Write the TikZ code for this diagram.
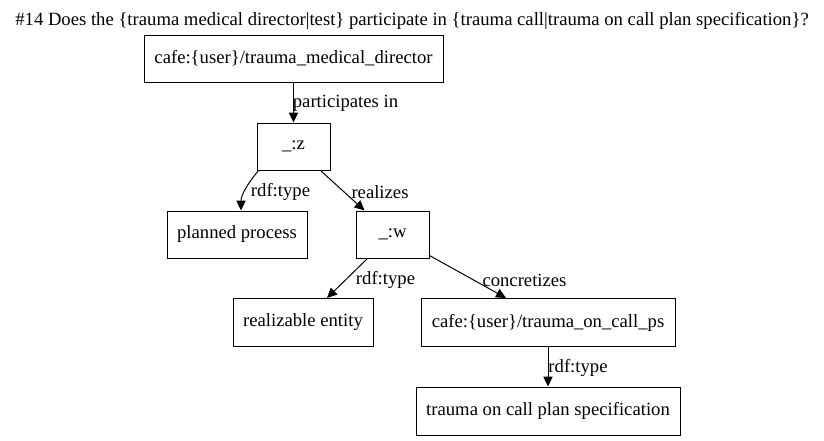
\documentclass[tikz,border=0pt]{standalone}
\usepackage{fontspec}
\setmainfont{Liberation Serif}
\usetikzlibrary{arrows.meta,calc}
\begin{document}
\begin{tikzpicture}[x=0.75pt,y=-0.75pt,
  every node/.style={font=\fontsize{14pt}{16pt}\selectfont},
  bx/.style 2 args={draw,line width=0.75pt,inner sep=0pt,minimum width=#1*0.75pt,minimum height=#2*0.75pt},
  edge/.style={line width=0.75pt,-{Triangle[length=7.5pt,width=7pt]}},
  lbl/.style={inner sep=0pt}]
\useasboundingbox (0,0) rectangle (824,440);
\node[inner sep=0pt] (title) at (412,21) {\#14 Does the \{trauma medical director|test\} participate in \{trauma call|trauma on call plan specification\}?};
\node[bx={299}{47}] (a) at (293.5,58.5) {cafe:\{user\}/trauma\_medical\_director};
\node[bx={73}{47}] (z) at (293.5,146.5) {\_:z};
\node[bx={140}{47}] (pp) at (237,234.5) {planned process};
\node[bx={73}{47}] (w) at (392.5,234.5) {\_:w};
\node[bx={140}{48}] (re) at (303,322.5) {realizable entity};
\node[bx={254}{48}] (p) at (548,322.5) {cafe:\{user\}/trauma\_on\_call\_ps};
\node[bx={264}{48}] (t) at (548,411) {trauma on call plan specification};
\draw[edge] (a.south) -- (z.north);
\draw[edge] ($(z.south west)+(2,0)$) .. controls ($(z.south west)+(-8,12)$) and ($(pp.north)+(4,-16)$) .. ($(pp.north)+(4,0)$);
\draw[edge] ($(z.south east)+(-10,0)$) -- ($(w.north west)+(9,0)$);
\draw[edge] ($(w.south west)+(12,0)$) -- ($(re.north)+(24,0)$);
\draw[edge] ($(w.south east)+(0,-3)$) -- ($(p.north)+(-42,0)$);
\draw[edge] (p.south) -- (t.north);
\node[lbl] (l1) at (345.5,103) {participates in};
\node[lbl] (l2) at (280.5,192) {rdf:type};
\node[lbl] (l3) at (380,192) {realizes};
\node[lbl] (l4) at (385.5,280) {rdf:type};
\node[lbl] (l5) at (524.5,280) {concretizes};
\node[lbl] (l6) at (578,368) {rdf:type};
\end{tikzpicture}
\end{document}
